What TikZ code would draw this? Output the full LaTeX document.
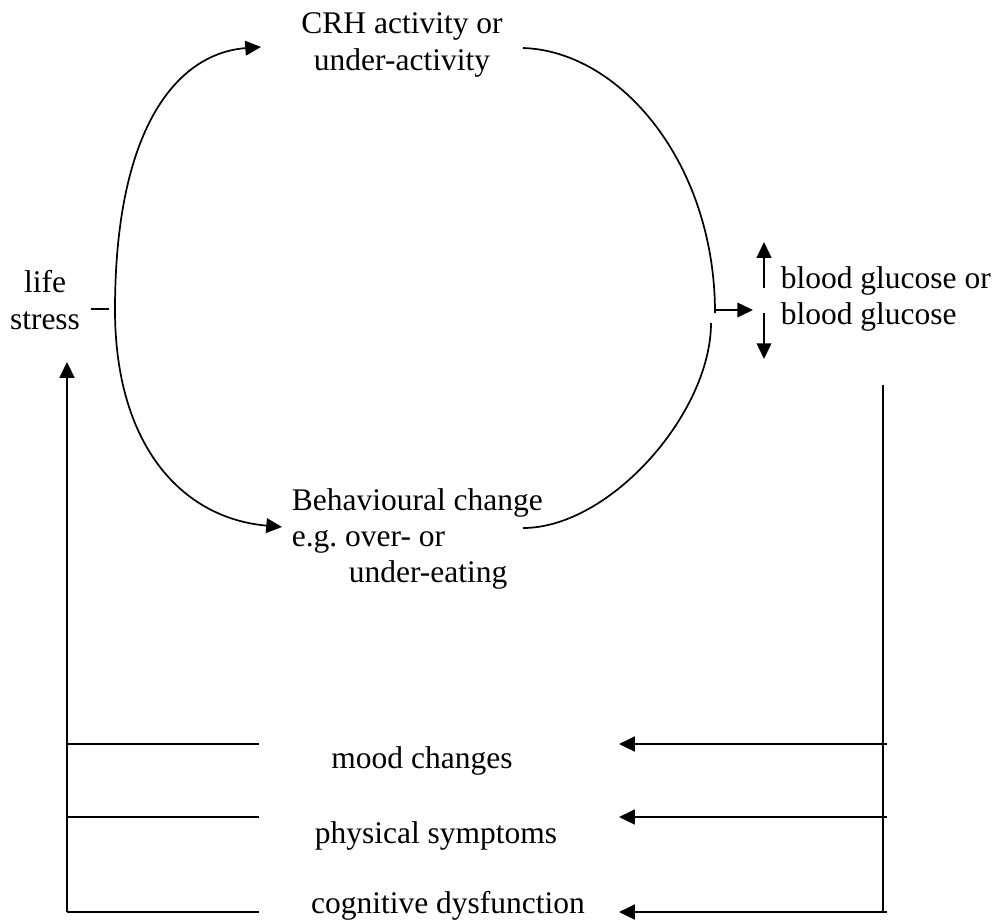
\documentclass[tikz,border=0pt,12pt]{standalone}
\usepackage{fontspec}
\setmainfont{Liberation Serif}
\usetikzlibrary{arrows.meta}

\begin{document}
\begin{tikzpicture}[x=0.381pt,y=0.381pt,line width=0.65pt,
    tip/.style={-{Triangle[length=6pt,width=5.6pt]}},
    frame/.style={line width=0.95pt},
    lbl/.style={inner sep=0pt,font=\fontsize{12}{13.8}\selectfont}]
    \useasboundingbox (0,0) rectangle (999,923);

    \node[lbl,align=center] (crh) at (402,878) {CRH activity or\\under-activity};
    \node[lbl,align=center] (life) at (45,623) {life\\stress};
    \node[lbl,align=left,anchor=west] (gluc) at (780,624) {blood glucose or\\blood glucose};
    \node[lbl,align=left,anchor=west] (behav) at (291,384) {Behavioural change\\e.g.\ over- or\\\hspace*{21.7pt}under-eating};
    \node[lbl] (mood) at (422,162) {mood changes};
    \node[lbl] (phys) at (436,87) {physical symptoms};
    \node[lbl] (cogn) at (448,17) {cognitive dysfunction};

    % ends of the loop
    \coordinate (loopL) at (115,613);
    \coordinate (crhIn) at (261,876);
    \coordinate (crhOut) at (523,875);
    \coordinate (loopR) at (715,610);
    \coordinate (loopR2) at (711,600);
    \coordinate (behIn) at (282,396);
    \coordinate (behOut) at (523,395);

    \draw[tip] (loopL) .. controls (115,800) and (180,870) .. (crhIn);
    \draw (crhOut) .. controls (620,872) and (715,760) .. (loopR);
    \draw (loopR2) .. controls (711,510) and (610,395) .. (behOut);
    \draw[tip] (loopL) .. controls (115,480) and (180,405) .. (behIn);

    \draw[frame] (91,614) -- (109,614);
    \draw[tip] (714,613) -- (753,613);
    \draw[tip] ([shift={(-16,11)}]gluc.west) -- ++(0,46);
    \draw[tip] ([shift={(-16,-14)}]gluc.west) -- ++(0,-46);

    % feedback lines
    \draw[frame,tip] (67,11) -- (67,561);
    \draw[frame] (883,11) -- (883,538);
    \foreach \y in {179,106,11} {
      \draw[frame] (67,\y) -- (259,\y);
      \draw[frame,tip] (887,\y) -- (619,\y);
    }
\end{tikzpicture}
\end{document}
